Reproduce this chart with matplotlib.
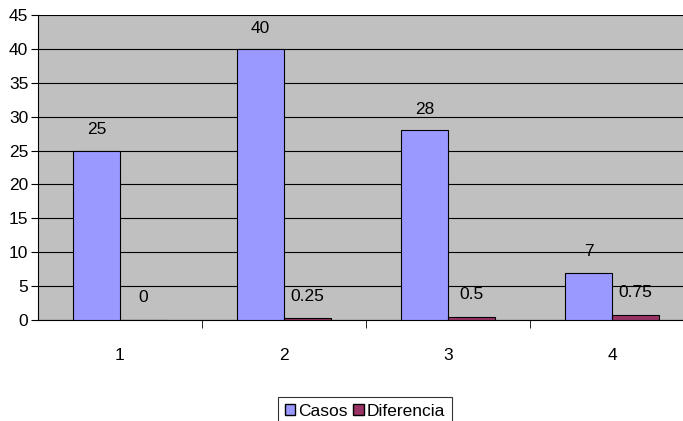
import numpy as np
import matplotlib.pyplot as plt
from matplotlib.patches import Patch

plt.rcParams['font.family'] = ['Liberation Sans Narrow', 'Liberation Sans', 'DejaVu Sans']

categorias = ['1', '2', '3', '4']
casos = [25, 40, 28, 7]
diferencia = [0, 0.25, 0.5, 0.75]
etiquetas_dif = ['0', '0.25', '0.5', '0.75']

fig = plt.figure(figsize=(6.83, 4.21), dpi=100)
ax = fig.add_axes([38 / 683, 101 / 421, 656 / 683, 305 / 421])
ax.set_facecolor('#C0C0C0')

x = np.arange(1, len(categorias) + 1)
w = 0.285
ax.bar(x - w / 2, casos, w, color='#9999FF', edgecolor='black', linewidth=0.8, zorder=3)
ax.bar(x + w / 2, diferencia, w, color='#993366', edgecolor='black', linewidth=0.8, zorder=3)

for xi, v in zip(x, casos):
    ax.annotate(str(v), (xi - w / 2, v), xytext=(0, 15), textcoords='offset points',
                ha='center', va='center', fontsize=12.5)
for xi, v, t in zip(x, diferencia, etiquetas_dif):
    ax.annotate(t, (xi + w / 2, v), xytext=(0, 16), textcoords='offset points',
                ha='center', va='center', fontsize=12.5)

ax.set_xlim(0.5, 4.5)
ax.set_ylim(0, 45)
ax.set_yticks(range(0, 46, 5))
ax.yaxis.grid(True, color='black', linewidth=0.8)
ax.set_axisbelow(True)

ax.set_xticks(x)
ax.set_xticklabels(categorias, fontsize=12.5)
ax.set_xticks(np.arange(1.5, 4.5, 1), minor=True)
ax.tick_params(axis='x', which='major', length=0, pad=20)
ax.tick_params(axis='x', which='minor', length=6, direction='out', color='black')
ax.tick_params(axis='y', length=5, direction='out', labelsize=12.5, pad=2)

for s in ['top', 'right']:
    ax.spines[s].set_visible(False)
ax.spines['left'].set_linewidth(0.8)
ax.spines['bottom'].set_linewidth(0.8)

handles = [Patch(facecolor='#9999FF', edgecolor='black', label='Casos'),
           Patch(facecolor='#993366', edgecolor='black', label='Diferencia')]
leg = fig.legend(handles=handles, loc='upper center', bbox_to_anchor=(365 / 683, 33 / 421), ncol=2,
                 fontsize=12.5, frameon=True, fancybox=False, edgecolor='black',
                 handlelength=0.6, handleheight=0.6, handletextpad=0.2, columnspacing=0.3,
                 borderpad=0.4)
leg.get_frame().set_linewidth(0.8)

fig.savefig('out.png', dpi=100)
